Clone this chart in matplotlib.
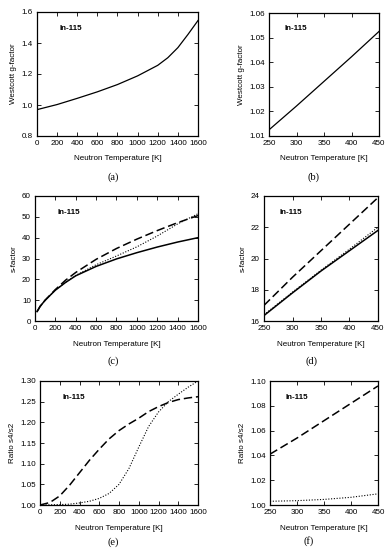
import matplotlib
matplotlib.use("Agg")
import matplotlib.pyplot as plt
import numpy as np

# ---- data ----
T_a = [0, 200, 400, 600, 800, 1000, 1200, 1300, 1400, 1500, 1600]
g_a = [0.97, 1.003, 1.043, 1.085, 1.132, 1.188, 1.256, 1.305, 1.37, 1.455, 1.545]

T_b = [250, 300, 350, 400, 450]
g_b = [1.0125, 1.0222, 1.0322, 1.0422, 1.0525]

T_c = [20, 50, 100, 200, 300, 400, 600, 800, 1000, 1200, 1400, 1600]
s_solid_c = [4.5, 7.0, 10.0, 14.8, 18.5, 21.7, 26.2, 29.8, 32.8, 35.5, 37.9, 40.0]
s_dash_c = [4.5, 7.0, 10.0, 15.1, 19.6, 23.3, 29.6, 34.8, 39.3, 43.4, 47.2, 50.6]
s_dot_c = [4.5, 7.0, 10.0, 14.8, 18.6, 21.9, 27.0, 31.2, 35.6, 40.8, 46.6, 51.5]

T_d = [250, 300, 350, 400, 450]
s_solid_d = [16.35, 17.8, 19.2, 20.5, 21.8]
s_dash_d = [17.0, 18.8, 20.5, 22.2, 23.9]
s_dot_d = [16.4, 17.85, 19.25, 20.6, 22.0]

T_e = [0, 100, 200, 300, 400, 500, 600, 700, 800, 900, 1000, 1100, 1200, 1300, 1400, 1500, 1600]
r_dash_e = [1.0, 1.006, 1.022, 1.048, 1.078, 1.108, 1.135, 1.160, 1.180, 1.196, 1.210, 1.226, 1.238, 1.248, 1.255, 1.259, 1.262]
r_dot_e = [1.0, 1.0005, 1.001, 1.002, 1.005, 1.009, 1.016, 1.028, 1.050, 1.088, 1.140, 1.190, 1.225, 1.250, 1.268, 1.285, 1.30]

T_f = [250, 300, 350, 400, 450]
r_dash_f = [1.041, 1.054, 1.068, 1.082, 1.096]
r_dot_f = [1.003, 1.0035, 1.0045, 1.0062, 1.009]

W, H = 392, 550
fig = plt.figure(figsize=(W / 100, H / 100), dpi=100)
plt.rcParams['font.family'] = ['Liberation Sans', 'DejaVu Sans']

FS = 5.8
DASH = (0, (5.5, 2.5))
DOT = (0, (1, 1.5))

def mk(left, right, top, bottom):
    return fig.add_axes([left / W, (H - bottom) / H, (right - left) / W, (bottom - top) / H])

def style(ax, xlim, ylim, xticks, yticks, yfmt, ylabel, letter, lx, ly):
    ax.set_xlim(*xlim)
    ax.set_ylim(*ylim)
    ax.set_xticks(xticks)
    ax.set_yticks(yticks)
    ax.set_yticklabels([yfmt.format(v) for v in yticks])
    ax.tick_params(direction='in', top=True, right=True, labelsize=FS, length=3, width=0.6, pad=3)
    for s in ax.spines.values():
        s.set_linewidth(0.9)
    ax.set_xlabel('Neutron Temperature [K]', fontsize=FS, labelpad=6)
    ax.set_ylabel(ylabel, fontsize=FS, labelpad=3)
    ax.text(0.14, 0.87, 'In-115', transform=ax.transAxes, fontsize=FS, fontweight='bold', va='center')
    fig.text(lx / W, 1 - ly / H, letter, fontsize=7.5, family='Liberation Serif',
             ha='center', va='center')

# (a)
ax = mk(37, 198, 12, 136)
ax.plot(T_a, g_a, color='black', lw=0.9)
style(ax, (0, 1600), (0.8, 1.6), range(0, 1601, 200), [0.8, 1.0, 1.2, 1.4, 1.6], '{:.1f}',
      'Westcott g-factor', '(a)', 113, 177)

# (b)
ax = mk(269, 379, 13, 136)
ax.plot(T_b, g_b, color='black', lw=0.9)
style(ax, (250, 450), (1.01, 1.06), range(250, 451, 50), [1.01, 1.02, 1.03, 1.04, 1.05, 1.06], '{:.2f}',
      'Westcott g-factor', '(b)', 313, 177)

# (c)
ax = mk(35, 198, 196, 321)
ax.plot(T_c, s_solid_c, color='black', lw=1.1)
ax.plot(T_c, s_dash_c, color='black', lw=1.1, ls=DASH)
ax.plot(T_c, s_dot_c, color='black', lw=0.8, ls=DOT)
style(ax, (0, 1600), (0, 60), range(0, 1601, 200), list(range(0, 61, 10)), '{:d}',
      's-factor', '(c)', 113, 361)

# (d)
ax = mk(264, 378, 196, 321)
ax.plot(T_d, s_solid_d, color='black', lw=1.1)
ax.plot(T_d, s_dash_d, color='black', lw=1.1, ls=DASH)
ax.plot(T_d, s_dot_d, color='black', lw=0.8, ls=DOT)
style(ax, (250, 450), (16, 24), range(250, 451, 50), list(range(16, 25, 2)), '{:d}',
      's-factor', '(d)', 311, 361)

# (e)
ax = mk(40, 198, 381, 505)
ax.plot(T_e, r_dash_e, color='black', lw=1.1, ls=DASH)
ax.plot(T_e, r_dot_e, color='black', lw=0.8, ls=DOT)
style(ax, (0, 1600), (1.0, 1.3), range(0, 1601, 200), [1.0, 1.05, 1.1, 1.15, 1.2, 1.25, 1.3], '{:.2f}',
      'Ratio s4/s2', '(e)', 113, 542)

# (f)
ax = mk(270, 378, 381, 505)
ax.plot(T_f, r_dash_f, color='black', lw=1.1, ls=DASH)
ax.plot(T_f, r_dot_f, color='black', lw=0.8, ls=DOT)
style(ax, (250, 450), (1.0, 1.1), range(250, 451, 50), [1.0, 1.02, 1.04, 1.06, 1.08, 1.1], '{:.2f}',
      'Ratio s4/s2', '(f)', 309, 541)

fig.savefig('out.png', dpi=100)
